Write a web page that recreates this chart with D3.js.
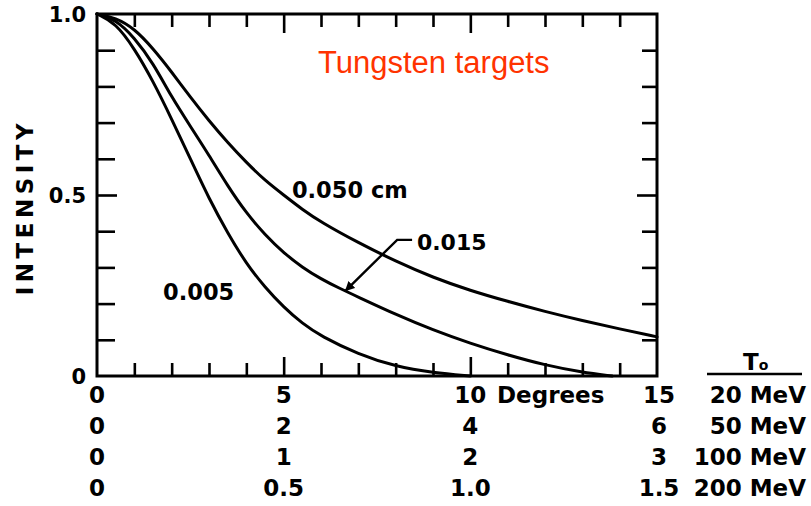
<!DOCTYPE html>
<html>
<head>
<meta charset="utf-8">
<script src="https://cdn.jsdelivr.net/npm/d3@7"></script>
<style>
  html, body { margin: 0; padding: 0; background: #fff; }
  svg { display: block; }
  text { font-family: "DejaVu Sans", sans-serif; font-weight: bold; fill: #000; }
</style>
</head>
<body>
<svg id="chart" width="811" height="506"></svg>
<script>
// ---- data ----
const angle005 = [0, 0.5, 1, 1.5, 2, 2.5, 3, 3.5, 4, 4.5, 5, 5.5, 6, 7, 8, 9, 10];
const int005   = [1, 0.975, 0.905, 0.815, 0.71, 0.60, 0.49, 0.395, 0.31, 0.245, 0.19, 0.145, 0.11, 0.06, 0.026, 0.009, 0];
const angle015 = [0, 0.5, 1, 1.5, 2, 2.5, 3, 3.5, 4, 4.5, 5, 5.5, 6, 6.5, 7, 8, 9, 10, 11, 12, 13, 13.8];
const int015   = [1, 0.985, 0.935, 0.865, 0.77, 0.69, 0.61, 0.525, 0.45, 0.39, 0.34, 0.30, 0.268, 0.242, 0.218, 0.17, 0.127, 0.09, 0.058, 0.03, 0.01, 0];
const angle050 = [0, 0.5, 1, 1.5, 2, 2.5, 3, 3.5, 4, 4.5, 5, 5.5, 6, 7, 8, 9, 10, 11, 12, 13, 14, 15];
const int050   = [1, 0.99, 0.96, 0.905, 0.84, 0.77, 0.705, 0.645, 0.59, 0.54, 0.50, 0.46, 0.425, 0.368, 0.317, 0.272, 0.236, 0.206, 0.178, 0.153, 0.13, 0.108];

const seriesNames = ["0.005", "0.015", "0.050 cm"];
const yTickLabels = ["0", "0.5", "1.0"];
const yTickValues = [0, 0.5, 1];
const xLabelPositions = [0, 5, 10, 15];
const energyLabels = ["20 MeV", "50 MeV", "100 MeV", "200 MeV"];
const rowLabels = [
  ["0", "5", "10", "15"],
  ["0", "2", "4", "6"],
  ["0", "1", "2", "3"],
  ["0", "0.5", "1.0", "1.5"]
];
const title = "Tungsten targets";
const yTitle = "INTENSITY";
const xUnit = "Degrees";

// ---- scales ----
const svg = d3.select("#chart");
svg.append("rect").attr("width", 811).attr("height", 506).attr("fill", "#fff");
const x = d3.scaleLinear().domain([0, 15]).range([97, 657]);
const y = d3.scaleLinear().domain([0, 1]).range([376, 14]);

const minorX = d3.range(0, 16).filter(d => d % 5 !== 0);
const majorX = [5, 10];
const minorY = d3.range(1, 10).map(d => d / 10).filter(d => d !== 0.5);
const majorY = [0.5];

function styleAxis(g) {
  g.select(".domain").remove();
  g.selectAll(".tick line").attr("stroke", "#000").attr("stroke-width", 2.6);
}
// bottom ticks (inward)
svg.append("g").attr("transform", `translate(0,${y(0)})`)
  .call(d3.axisBottom(x).tickValues(minorX).tickSize(-13).tickFormat("")).call(styleAxis);
svg.append("g").attr("transform", `translate(0,${y(0)})`)
  .call(d3.axisBottom(x).tickValues(majorX).tickSize(-19).tickFormat("")).call(styleAxis);
// top ticks
svg.append("g").attr("transform", `translate(0,${y(1)})`)
  .call(d3.axisTop(x).tickValues(minorX).tickSize(-13).tickFormat("")).call(styleAxis);
svg.append("g").attr("transform", `translate(0,${y(1)})`)
  .call(d3.axisTop(x).tickValues(majorX).tickSize(-19).tickFormat("")).call(styleAxis);
// left ticks
svg.append("g").attr("transform", `translate(${x(0)},0)`)
  .call(d3.axisLeft(y).tickValues(minorY).tickSize(-18).tickFormat("")).call(styleAxis);
svg.append("g").attr("transform", `translate(${x(0)},0)`)
  .call(d3.axisLeft(y).tickValues(majorY).tickSize(-20).tickFormat("")).call(styleAxis);
// right ticks
svg.append("g").attr("transform", `translate(${x(15)},0)`)
  .call(d3.axisRight(y).tickValues(minorY).tickSize(-15).tickFormat("")).call(styleAxis);
svg.append("g").attr("transform", `translate(${x(15)},0)`)
  .call(d3.axisRight(y).tickValues(majorY).tickSize(-20).tickFormat("")).call(styleAxis);

// frame
svg.append("rect")
  .attr("x", x(0)).attr("y", y(1))
  .attr("width", x(15) - x(0)).attr("height", y(0) - y(1))
  .attr("fill", "none").attr("stroke", "#000").attr("stroke-width", 3);

// curves
const line = d3.line().x(d => x(d[0])).y(d => y(d[1])).curve(d3.curveBasis);
const series = [
  d3.zip(angle005, int005),
  d3.zip(angle015, int015),
  d3.zip(angle050, int050)
];
svg.append("g").selectAll("path").data(series).join("path")
  .attr("d", line)
  .attr("fill", "none").attr("stroke", "#000").attr("stroke-width", 3)
  .attr("stroke-linecap", "round");

// y tick labels
svg.append("g").selectAll("text").data(yTickValues).join("text")
  .attr("x", 86).attr("y", d => y(d) + 8)
  .attr("text-anchor", "end").attr("font-size", 21)
  .text((d, i) => yTickLabels[i]);

// y title
svg.append("text")
  .attr("transform", `translate(33,${207}) rotate(-90)`)
  .attr("text-anchor", "middle").attr("font-size", 23)
  .attr("letter-spacing", 4.5)
  .text(yTitle);

// bottom rows
const rowBaselines = [403, 434, 465, 496];
rowLabels.forEach((labels, r) => {
  svg.append("g").selectAll("text").data(labels).join("text")
    .attr("x", (d, i) => x(xLabelPositions[i]) + (i === 3 ? 2 : 0))
    .attr("y", rowBaselines[r])
    .attr("text-anchor", "middle").attr("font-size", 23)
    .text(d => d);
});
svg.append("g").selectAll("text").data(energyLabels).join("text")
  .attr("x", 806).attr("y", (d, i) => rowBaselines[i])
  .attr("text-anchor", "end").attr("font-size", 23)
  .text(d => d);
svg.append("text").attr("x", 497).attr("y", rowBaselines[0])
  .attr("font-size", 23).text(xUnit);

// T0 header
const t0 = svg.append("text").attr("x", 743).attr("y", 370).attr("font-size", 23);
t0.append("tspan").text("T");
t0.append("tspan").attr("font-size", 14).attr("dy", 0).text("o");
svg.append("line").attr("x1", 707).attr("x2", 802).attr("y1", 374).attr("y2", 374)
  .attr("stroke", "#000").attr("stroke-width", 2.6);

// title
svg.append("text").attr("x", 318).attr("y", 73)
  .style("font-family", "'Liberation Sans', Arial, sans-serif")
  .style("font-weight", "normal")
  .style("fill", "#ff3300")
  .attr("font-size", 31).text(title);

// curve labels
svg.append("text").attr("x", x(5.22)).attr("y", y(0.492)).attr("font-size", 22.5).text(seriesNames[2]);
svg.append("text").attr("x", x(8.57)).attr("y", y(0.348)).attr("font-size", 22).text(seriesNames[1]);
svg.append("text").attr("x", x(1.77)).attr("y", y(0.21)).attr("font-size", 22.5).text(seriesNames[0]);

// arrow for 0.015
svg.append("defs").append("marker")
  .attr("id", "ah").attr("viewBox", "0 0 10 10").attr("refX", 9).attr("refY", 5)
  .attr("markerWidth", 4).attr("markerHeight", 4).attr("orient", "auto")
  .append("path").attr("d", "M0,0 L10,5 L0,10 z").attr("fill", "#000");
svg.append("path")
  .attr("d", `M${x(8.44)},${y(0.376)} L${x(8.04)},${y(0.376)} L${x(6.66)},${y(0.236)}`)
  .attr("fill", "none").attr("stroke", "#000").attr("stroke-width", 2.4)
  .attr("marker-end", "url(#ah)");
</script>
</body>
</html>
